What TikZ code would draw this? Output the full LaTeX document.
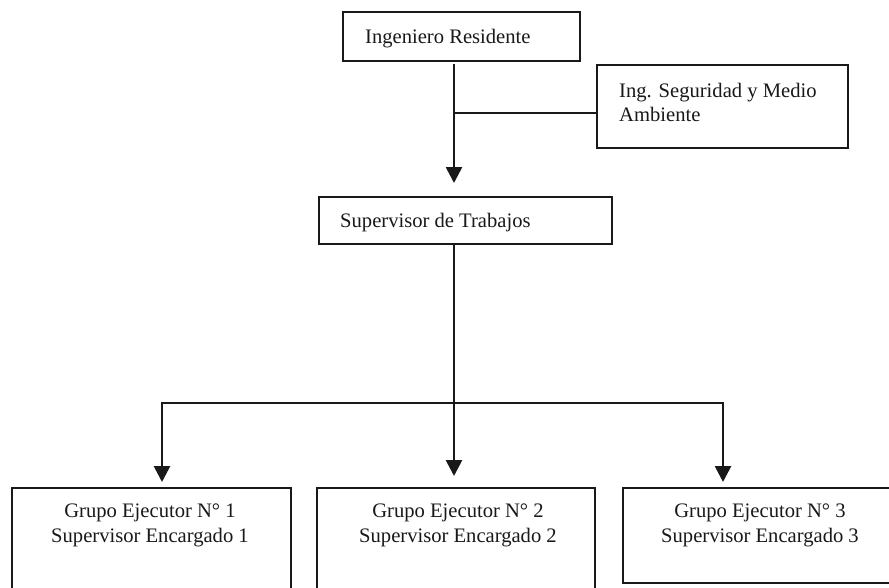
\documentclass[tikz,border=0pt]{standalone}
\usepackage{fontspec}
\setmainfont{Liberation Serif}
\usetikzlibrary{arrows.meta}
\begin{document}
\begin{tikzpicture}[x=1pt,y=-1pt,
  box/.style={draw=black!90, line width=1.8pt, inner sep=0pt, outer sep=0pt, anchor=north west},
  lbl/.style={inner sep=0pt, font=\fontsize{20.6pt}{25pt}\selectfont, text=black!90},
  conn/.style={draw=black!90, line width=2.7pt, line join=miter},
  thinconn/.style={draw=black!90, line width=1.7pt},
  arr/.style={conn, -{Triangle[width=16pt,length=16pt]}}]
\useasboundingbox (0,0) rectangle (889,587);
\clip (0,0) rectangle (889,587);
\fill[white] (0,0) rectangle (889,587);
% boxes
\node[box, minimum width=237pt, minimum height=49pt] (ir) at (343,12) {};
\node[box, minimum width=251pt, minimum height=83pt] (seg) at (597,65) {};
\node[box, minimum width=293pt, minimum height=47pt] (sv) at (319,197) {};
\node[box, minimum width=279pt, minimum height=112pt] (g1) at (12,488) {};
\node[box, minimum width=278pt, minimum height=112pt] (g2) at (317,488) {};
\node[box, minimum width=274pt, minimum height=95pt] (g3) at (623,488) {};
% texts
\node[lbl, anchor=base west] (tir) at (365,43) {Ingeniero Residente};
\node[lbl, anchor=base west] (tseg1) at (619,97) {Ing. Seguridad y Medio};
\node[lbl, anchor=base west] (tseg2) at (619,121) {Ambiente};
\node[lbl, anchor=base west] (tsv) at (340,227) {Supervisor de Trabajos};
\node[lbl, anchor=base] (tg1a) at (150,517) {Grupo Ejecutor N° 1};
\node[lbl, anchor=base] (tg1b) at (150,542) {Supervisor Encargado 1};
\node[lbl, anchor=base] (tg2a) at (458,517) {Grupo Ejecutor N° 2};
\node[lbl, anchor=base] (tg2b) at (458,542) {Supervisor Encargado 2};
\node[lbl, anchor=base] (tg3a) at (760,517) {Grupo Ejecutor N° 3};
\node[lbl, anchor=base] (tg3b) at (760,542) {Supervisor Encargado 3};
% connector coordinates
\coordinate (p0) at (454,64);
\coordinate (p1) at (454,183);
\coordinate (pj) at (454,113);
\coordinate (hm) at (454,403);
\coordinate (h1) at (162,403);
\coordinate (h3) at (723,403);
\coordinate (t1) at (162,482);
\coordinate (t2) at (454,476);
\coordinate (t3) at (723,482);
% connectors
\draw[arr] (p0) -- (p1);
\draw[thinconn] (pj) -- (seg.west |- pj);
\draw[arr] (sv.south -| p0) -- (t2);
\draw[arr] (hm) -- (h1) -- (t1);
\draw[arr] (hm) -- (h3) -- (t3);
\end{tikzpicture}
\end{document}
